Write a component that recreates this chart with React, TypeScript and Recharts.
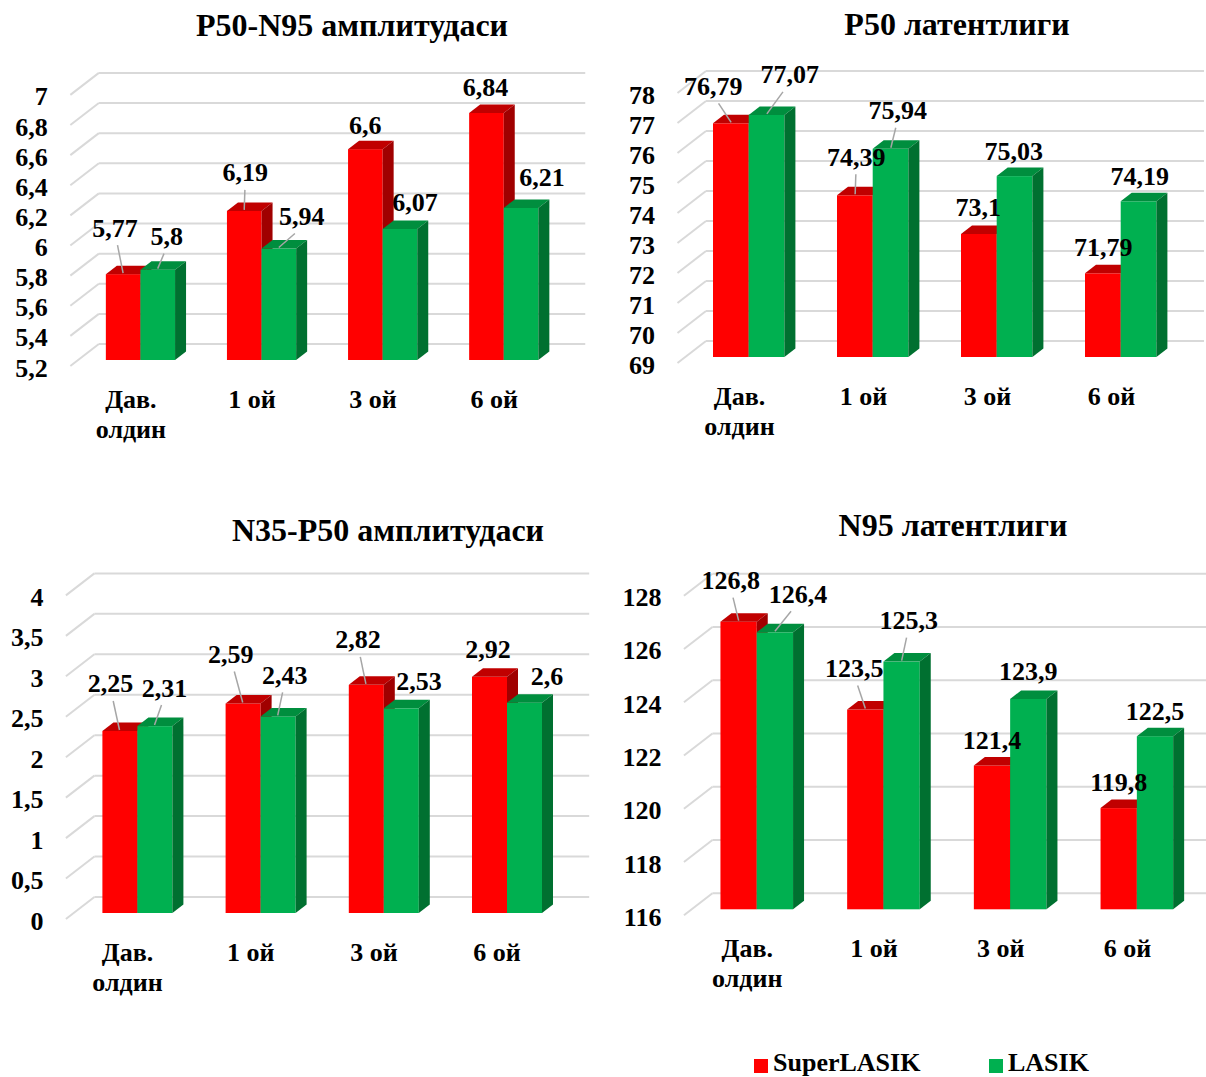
import { Bar, CartesianGrid, ComposedChart, LabelList, Line, XAxis, YAxis } from "recharts"

const categories = ["Дав.\nолдин", "1 ой", "3 ой", "6 ой"]
const seriesNames = ["SuperLASIK", "LASIK"]

// P50-N95 амплитудаси
const ampP50N95Super = [5.77, 6.19, 6.6, 6.84]
const ampP50N95Lasik = [5.8, 5.94, 6.07, 6.21]
const ampP50N95Ticks = [5.2, 5.4, 5.6, 5.8, 6, 6.2, 6.4, 6.6, 6.8, 7]

// P50 латентлиги
const latP50Super = [76.79, 74.39, 73.1, 71.79]
const latP50Lasik = [77.07, 75.94, 75.03, 74.19]
const latP50Ticks = [69, 70, 71, 72, 73, 74, 75, 76, 77, 78]

// N35-P50 амплитудаси
const ampN35P50Super = [2.25, 2.59, 2.82, 2.92]
const ampN35P50Lasik = [2.31, 2.43, 2.53, 2.6]
const ampN35P50Ticks = [0, 0.5, 1, 1.5, 2, 2.5, 3, 3.5, 4]

// N95 латентлиги
const latN95Super = [126.8, 123.5, 121.4, 119.8]
const latN95Lasik = [126.4, 125.3, 123.9, 122.5]
const latN95Ticks = [116, 118, 120, 122, 124, 126, 128]

const FONT = "'Liberation Serif', 'Times New Roman', serif"
const TXT = { fontFamily: FONT, fontWeight: 700 }
const GRID = "#D9D9D9"
const LEADER = "#A6A6A6"
const RED = { front: "#FF0000", top: "#C00000", side: "#A00000" }
const GREEN = { front: "#00B050", top: "#008E3E", side: "#007030" }

// depth of the pseudo-3D prisms
const DEPTH_X = 11
const DEPTH_Y = 8.5

const fmt = (v: number) => String(v).replace(".", ",")

// [dx, dy, leader] of a value label relative to the top of its bar
type LabelPos = [number, number, boolean]

type PanelConfig = {
  title: string
  titleX: number
  titleY: number
  superVals: number[]
  lasikVals: number[]
  ticks: number[]
  left: number
  top: number
  height: number
  margin: { top: number; right: number; bottom: number; left: number }
  barSize: number
  superLabels: LabelPos[]
  lasikLabels: LabelPos[]
}

const prism = (p: any, c: { front: string; top: string; side: string }) => {
  const { x, y, width: w, height: h } = p
  if (h == null || isNaN(h)) return <g />
  return (
    <g>
      <rect x={x} y={y} width={w} height={h} fill={c.front} />
      <polygon
        points={`${x},${y} ${x + DEPTH_X},${y - DEPTH_Y} ${x + w + DEPTH_X},${y - DEPTH_Y} ${x + w},${y}`}
        fill={c.top}
      />
      <polygon
        points={`${x + w},${y} ${x + w + DEPTH_X},${y - DEPTH_Y} ${x + w + DEPTH_X},${y + h - DEPTH_Y} ${x + w},${y + h}`}
        fill={c.side}
      />
    </g>
  )
}

const renderLabel = (p: any, shift: number, pos: LabelPos[]) => {
  const { x, y, value, index } = p
  const [dx, dy, leader] = pos[index]
  const bx = x + shift
  const lx = bx + dx
  const ly = y + dy
  return (
    <g key={`lbl-${index}`}>
      {leader && (
        <line
          x1={lx + (bx - lx) * 0.3}
          y1={ly + 17}
          x2={bx}
          y2={y - 1}
          stroke={LEADER}
          strokeWidth={1.5}
        />
      )}
      <text
        x={lx}
        y={ly}
        textAnchor='middle'
        dominantBaseline='central'
        style={TXT}
        fontSize={26}
        fill='#000'
      >
        {fmt(value)}
      </text>
    </g>
  )
}

// back-wall gridline with the diagonal running to the front of the floor
const gridLine = (p: any) => (
  <g key={p.key}>
    <line x1={p.x1 - 9.5} y1={p.y1 + 6} x2={p.x1 + 19} y2={p.y1 - 16} stroke={GRID} strokeWidth={2} />
    <line x1={p.x1 + 19} y1={p.y1 - 16} x2={p.x2 + 21} y2={p.y1 - 16} stroke={GRID} strokeWidth={2} />
  </g>
)

const yTick = (p: any) => (
  <text
    key={`yt-${p.index}`}
    x={p.x}
    y={p.y + 8}
    textAnchor='end'
    dominantBaseline='central'
    style={TXT}
    fontSize={26}
    fill='#000'
  >
    {fmt(p.payload.value)}
  </text>
)

const xTick = (p: any) => {
  const lines = String(p.payload.value).split("\n")
  return (
    <text
      key={`xt-${p.index}`}
      x={p.x - 9.5}
      y={p.y + 48}
      textAnchor='middle'
      style={TXT}
      fontSize={26}
      fill='#000'
    >
      {lines.map((t, i) => (
        <tspan key={t} x={p.x - 9.5} dy={i === 0 ? 0 : 30}>
          {t}
        </tspan>
      ))}
    </text>
  )
}

const Panel = ({ cfg }: { cfg: PanelConfig }) => {
  const data = categories.map((name, i) => ({
    name,
    superlasik: cfg.superVals[i],
    lasik: cfg.lasikVals[i],
  }))
  const half = cfg.barSize / 2
  return (
    <div style={{ position: "absolute", left: cfg.left, top: cfg.top, width: 603, height: cfg.height }}>
      <svg width={603} height={60} style={{ position: "absolute", left: 0, top: 0 }}>
        <text x={cfg.titleX} y={cfg.titleY} textAnchor='middle' style={TXT} fontSize={32} fill='#000'>
          {cfg.title}
        </text>
      </svg>
      <div style={{ position: "absolute", left: 0, top: 0 }}>
        <ComposedChart width={603} height={cfg.height} data={data} margin={cfg.margin} barGap={0}>
          <CartesianGrid vertical={false} horizontal={gridLine} />
          <XAxis
            dataKey='name'
            axisLine={false}
            tickLine={false}
            tickSize={0}
            tickMargin={0}
            height={30}
            interval={0}
            tick={xTick}
          />
          <YAxis
            type='number'
            domain={[cfg.ticks[0], cfg.ticks[cfg.ticks.length - 1]]}
            ticks={cfg.ticks}
            interval={0}
            width={60}
            axisLine={false}
            tickLine={false}
            tickSize={0}
            tickMargin={32}
            tick={yTick}
          />
          <Bar
            dataKey='superlasik'
            name={seriesNames[0]}
            barSize={cfg.barSize}
            isAnimationActive={false}
            shape={(p: any) => prism(p, RED)}
          />
          <Bar
            dataKey='lasik'
            name={seriesNames[1]}
            barSize={cfg.barSize}
            isAnimationActive={false}
            shape={(p: any) => prism(p, GREEN)}
          />
          {/* invisible lines carry the value labels so they sit above every bar */}
          <Line
            dataKey='superlasik'
            stroke='none'
            dot={false}
            activeDot={false}
            legendType='none'
            isAnimationActive={false}
          >
            <LabelList dataKey='superlasik' content={(p: any) => renderLabel(p, -half, cfg.superLabels)} />
          </Line>
          <Line
            dataKey='lasik'
            stroke='none'
            dot={false}
            activeDot={false}
            legendType='none'
            isAnimationActive={false}
          >
            <LabelList dataKey='lasik' content={(p: any) => renderLabel(p, half, cfg.lasikLabels)} />
          </Line>
        </ComposedChart>
      </div>
    </div>
  )
}

const panels: PanelConfig[] = [
  {
    title: "P50-N95 амплитудаси",
    titleX: 352,
    titleY: 36,
    superVals: ampP50N95Super,
    lasikVals: ampP50N95Lasik,
    ticks: ampP50N95Ticks,
    left: 0,
    top: 0,
    height: 460,
    margin: { top: 88.9, right: 38.75, bottom: 70, left: 19.85 },
    barSize: 34.6,
    superLabels: [
      [-8, -46, true],
      [1, -38, true],
      [0, -24, false],
      [-1, -25, false],
    ],
    lasikLabels: [
      [9, -33, true],
      [23, -32, true],
      [15, -26, false],
      [21, -30, false],
    ],
  },
  {
    title: "P50 латентлиги",
    titleX: 354,
    titleY: 35,
    superVals: latP50Super,
    lasikVals: latP50Lasik,
    ticks: latP50Ticks,
    left: 603,
    top: 0,
    height: 460,
    margin: { top: 87, right: 23, bottom: 73, left: 24 },
    barSize: 35.7,
    superLabels: [
      [-18, -37, true],
      [1, -38, true],
      [-1, -27, false],
      [0, -26, false],
    ],
    lasikLabels: [
      [23, -40, true],
      [7, -38, true],
      [-1, -25, false],
      [1, -25, false],
    ],
  },
  {
    title: "N35-P50 амплитудаси",
    titleX: 388,
    titleY: 38,
    superVals: ampN35P50Super,
    lasikVals: ampN35P50Lasik,
    ticks: ampN35P50Ticks,
    left: 0,
    top: 503,
    height: 500,
    margin: { top: 86.4, right: 34.8, bottom: 60, left: 15.4 },
    barSize: 35,
    superLabels: [
      [-9, -47, true],
      [-12, -49, true],
      [-8, -45, true],
      [-1, -27, false],
    ],
    lasikLabels: [
      [10, -38, true],
      [7, -41, true],
      [18, -27, false],
      [23, -26, false],
    ],
  },
  {
    title: "N95 латентлиги",
    titleX: 350,
    titleY: 33,
    superVals: latN95Super,
    lasikVals: latN95Lasik,
    ticks: latN95Ticks,
    left: 603,
    top: 503,
    height: 500,
    margin: { top: 86.7, right: 5.75, bottom: 63.7, left: 30.45 },
    barSize: 36.3,
    superLabels: [
      [-8, -41, true],
      [-11, -41, true],
      [0, -25, false],
      [0, -26, false],
    ],
    lasikLabels: [
      [23, -38, true],
      [7, -41, true],
      [0, -27, false],
      [0, -25, false],
    ],
  },
]

const App = () => {
  return (
    <div
      style={{
        position: "absolute",
        left: 0,
        top: 0,
        width: 1206,
        height: 1077,
        background: "#fff",
        overflow: "hidden",
      }}
    >
      {panels.map((cfg) => (
        <Panel key={cfg.title} cfg={cfg} />
      ))}
      <svg width={1206} height={1077} style={{ position: "absolute", left: 0, top: 0, pointerEvents: "none" }}>
        <rect x={754} y={1059} width={14} height={14} fill={RED.front} />
        <text x={773} y={1071} style={TXT} fontSize={26} fill='#000'>
          {seriesNames[0]}
        </text>
        <rect x={989} y={1059} width={14} height={14} fill={GREEN.front} />
        <text x={1008} y={1071} style={TXT} fontSize={26} fill='#000'>
          {seriesNames[1]}
        </text>
      </svg>
    </div>
  )
}

export default App
